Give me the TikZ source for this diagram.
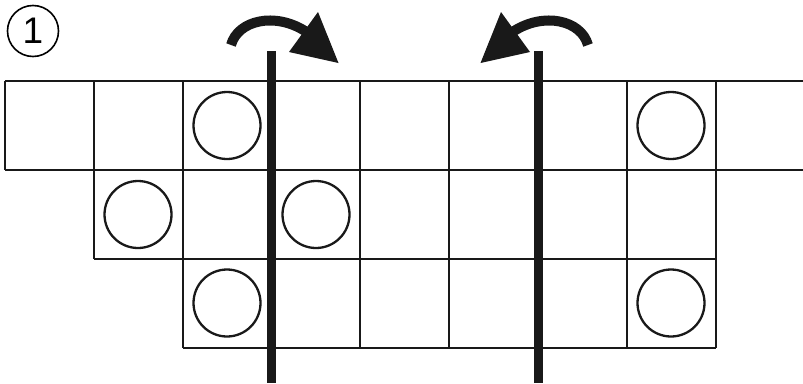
\documentclass[tikz,border=0pt]{standalone}
\usepackage{fontspec}
\setmainfont{Liberation Sans}
\begin{document}
\begin{tikzpicture}[x=1pt,y=-1pt,
  gridline/.style={line width=2pt,color=black!90},
  ring/.style={line width=2.3pt,color=black!90},
  foldline/.style={line width=9pt,color=black!90},
  turn/.style={line width=10pt,color=black!90},
  head/.style={fill=black!90}]
\useasboundingbox (0,0) rectangle (803,383);
% circled number
\node[circle,draw,line width=1.6pt,minimum size=51pt,inner sep=0pt,font=\fontsize{37}{37}\selectfont] (num) at (33,31) {1};
% grid: row 1
\draw[gridline] (5,81) -- (803,81);
\draw[gridline] (5,170) -- (803,170);
\foreach \x in {5,94,182.5,271,360,449,538,627,715.5}
  \draw[gridline] (\x,81) -- (\x,170);
% row 2
\draw[gridline] (94,259) -- (182.5,259);
\draw[gridline] (182.5,259) -- (715.5,259);
\foreach \x in {94,182.5,271,360,449,538,627,715.5}
  \draw[gridline] (\x,170) -- (\x,259);
% row 3
\draw[gridline] (182.5,347.5) -- (715.5,347.5);
\foreach \x in {182.5,271,360,449,538,627,715.5}
  \draw[gridline] (\x,259) -- (\x,347.5);
% circles
\foreach \cx/\cy in {227/125.5,671/125.5,138/214.5,316/214.5,227/303,671/303}
  \draw[ring] (\cx,\cy) circle (33.5);
% fold lines
\coordinate (f1t) at (271.5,51);
\coordinate (f1b) at (271.5,383);
\coordinate (f2t) at (538,51);
\coordinate (f2b) at (538,383);
\draw[foldline] (f1t) -- (f1b);
\draw[foldline] (f2t) -- (f2b);
% left turning arrow
\coordinate (a1s) at (231,45);
\coordinate (a1e) at (305,31);
\draw[turn] (a1s) .. controls (238,20) and (275,12) .. (a1e);
\fill[head] (318,12) -- (338.5,63) -- (289,52) -- cycle;
% right turning arrow
\coordinate (a2s) at (588,45);
\coordinate (a2e) at (514,31);
\draw[turn] (a2s) .. controls (581,20) and (544,12) .. (a2e);
\fill[head] (501,12) -- (480.5,63) -- (530,52) -- cycle;
\end{tikzpicture}
\end{document}
